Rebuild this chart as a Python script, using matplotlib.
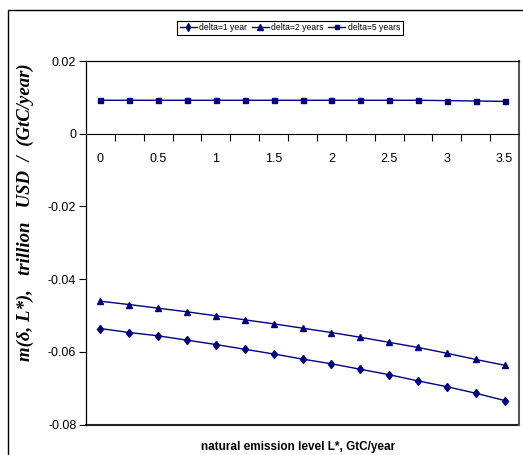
import matplotlib
matplotlib.use("Agg")
import matplotlib.pyplot as plt
from matplotlib.patches import Rectangle
from matplotlib.ticker import FixedLocator, FixedFormatter

# natural emission level L*, GtC/year
levels = [0, 0.25, 0.5, 0.75, 1, 1.25, 1.5, 1.75, 2, 2.25, 2.5, 2.75, 3, 3.25, 3.5]
level_labels = ["0", "", "0.5", "", "1", "", "1.5", "", "2", "", "2.5", "", "3", "", "3.5"]

delta_1 = [-0.0536, -0.0547, -0.0556, -0.0568, -0.0580, -0.0593, -0.0606, -0.0620,
           -0.0633, -0.0648, -0.0663, -0.0680, -0.0696, -0.0714, -0.0734]
delta_2 = [-0.0461, -0.0470, -0.0480, -0.0490, -0.0501, -0.0512, -0.0523, -0.0535,
           -0.0547, -0.0560, -0.0574, -0.0588, -0.0604, -0.0621, -0.0637]
delta_5 = [0.0092, 0.0092, 0.0092, 0.0092, 0.0092, 0.0092, 0.0092, 0.0092,
           0.0092, 0.0092, 0.0092, 0.0092, 0.0091, 0.0090, 0.0089]

series = [
    ("delta=1 year", delta_1, "d", 4.5),
    ("delta=2 years", delta_2, "^", 4.2),
    ("delta=5 years", delta_5, "s", 3.6),
]

plt.rcParams["font.family"] = ["Liberation Sans", "DejaVu Sans"]
navy = "#000080"

fig = plt.figure(figsize=(5.23, 4.55), dpi=100)
ax = fig.add_axes([86 / 523, 1 - 424.5 / 455, 433 / 523, 363.5 / 455])

idx = list(range(len(levels)))
handles = []
for name, vals, mk, ms in series:
    h, = ax.plot(idx, vals, color=navy, lw=1.0, marker=mk, ms=ms,
                 mfc=navy, mec=navy, label=name)
    handles.append(h)

ax.set_xlim(-0.5, len(levels) - 0.5)
ax.set_ylim(-0.08, 0.02)
ax.set_yticks([-0.08, -0.06, -0.04, -0.02, 0, 0.02])
ax.set_yticklabels(["-0.08", "-0.06", "-0.04", "-0.02", "0", "0.02"])
ax.tick_params(axis="y", direction="out", length=5, width=0.8, labelsize=9, pad=2)

# category axis crossing at zero, ticks between categories
ax.spines["bottom"].set_position(("data", 0))
ax.spines["bottom"].set_linewidth(0.8)
ax.xaxis.set_major_locator(FixedLocator(idx))
ax.xaxis.set_major_formatter(FixedFormatter(level_labels))
ax.xaxis.set_minor_locator(FixedLocator([i + 0.5 for i in idx[:-1]]))
ax.tick_params(axis="x", which="major", length=0, labelsize=9, pad=14)
ax.tick_params(axis="x", which="minor", direction="out", length=5, width=0.8)

# plot area frame
for s in ("left", "top"):
    ax.spines[s].set_linewidth(0.9)
ax.spines["right"].set_color("#555555")
ax.spines["right"].set_linewidth(1.5)
ax.plot([0, 1], [0, 0], transform=ax.transAxes, color="#222222", lw=1.5, clip_on=False)

leg = fig.legend(handles=handles, loc="center", bbox_to_anchor=(290 / 523, 1 - 28 / 455),
                 ncol=3, fontsize=6.2, frameon=True, fancybox=False, edgecolor="black",
                 framealpha=1, handlelength=2.0, handletextpad=0.3, columnspacing=0.5,
                 borderpad=0.3, markerscale=0.9)
leg.get_frame().set_linewidth(0.8)

fig.text(298 / 523, 1 - 447 / 455, "natural emission level L*, GtC/year",
         ha="center", va="center", fontsize=8.5, fontweight="bold")
fig.text(25 / 523, 1 - 212 / 455, "m(δ, L*),   trillion   USD  /  (GtC/year)",
         rotation=90, ha="center", va="center", fontsize=13.5, fontweight="bold",
         style="italic", family=["Liberation Serif", "DejaVu Serif"])

# outer chart border
fig.patches.append(Rectangle((8 / 523, -0.1), 1.2, 1 - 10 / 455 + 0.1,
                             transform=fig.transFigure, fill=False,
                             edgecolor="black", lw=1.0))

fig.savefig("out.png", dpi=100)
